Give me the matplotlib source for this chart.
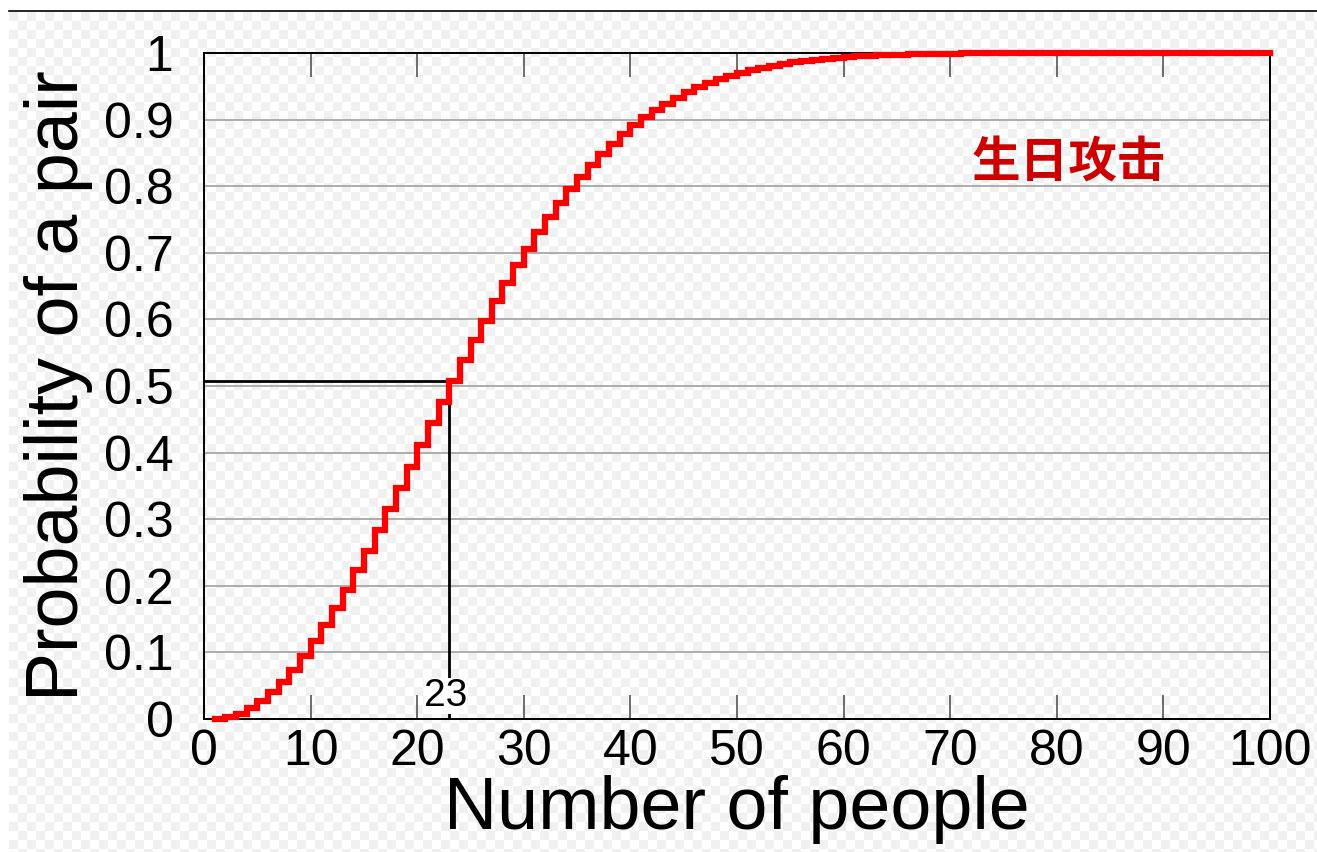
import numpy as np
import matplotlib

matplotlib.use("Agg")
import matplotlib.pyplot as plt
from matplotlib.lines import Line2D

# Number of people in the room
people = list(range(1, 101))

# Probability that at least two share a birthday
prob_pair = [
    0.0000, 0.0027, 0.0082, 0.0164, 0.0271, 0.0405, 0.0562, 0.0743, 0.0946, 0.1169,
    0.1411, 0.1670, 0.1944, 0.2231, 0.2529, 0.2836, 0.3150, 0.3469, 0.3791, 0.4114,
    0.4437, 0.4757, 0.5073, 0.5383, 0.5687, 0.5982, 0.6269, 0.6545, 0.6810, 0.7063,
    0.7305, 0.7533, 0.7750, 0.7953, 0.8144, 0.8322, 0.8487, 0.8641, 0.8782, 0.8912,
    0.9032, 0.9140, 0.9239, 0.9329, 0.9410, 0.9483, 0.9548, 0.9606, 0.9658, 0.9704,
    0.9744, 0.9780, 0.9811, 0.9839, 0.9863, 0.9883, 0.9901, 0.9917, 0.9930, 0.9941,
    0.9951, 0.9959, 0.9966, 0.9972, 0.9977, 0.9981, 0.9984, 0.9987, 0.9990, 0.9992,
    0.9993, 0.9995, 0.9996, 0.9997, 0.9997, 0.9998, 0.9998, 0.9999, 0.9999, 0.9999,
    0.9999, 0.9999, 1.0000, 1.0000, 1.0000, 1.0000, 1.0000, 1.0000, 1.0000, 1.0000,
    1.0000, 1.0000, 1.0000, 1.0000, 1.0000, 1.0000, 1.0000, 1.0000, 1.0000, 1.0000,
]

x_ticks = list(range(0, 101, 10))
y_ticks = [0, 0.1, 0.2, 0.3, 0.4, 0.5, 0.6, 0.7, 0.8, 0.9, 1]
y_tick_labels = ["0", "0.1", "0.2", "0.3", "0.4", "0.5", "0.6", "0.7", "0.8", "0.9", "1"]

half_n = 23  # first group size with p > 0.5
half_p = prob_pair[people.index(half_n)]

plt.rcParams["font.family"] = ["Liberation Sans", "DejaVu Sans"]

W, H, DPI = 1317, 852, 100
fig = plt.figure(figsize=(W / DPI, H / DPI), dpi=DPI)
fig.patch.set_facecolor("white")

# faint transparency checkerboard behind everything
cell = 9
yy, xx = np.mgrid[0:H - 12, 0:W - 9]
board = ((xx // cell + yy // cell) % 2).astype(float)
img = np.where(board[..., None] > 0, 1.0, 0.945) * np.ones(3)
fig.figimage(img, xo=9, yo=0, origin="upper", zorder=-5)
fig.add_artist(Line2D([9 / W, 1], [1 - 11 / H, 1 - 11 / H], color="black", lw=1.2,
                      transform=fig.transFigure))

ax = fig.add_axes([204 / W, 1 - 719 / H, (1270 - 204) / W, (719 - 53) / H])
ax.patch.set_alpha(0)

ax.step(people, prob_pair, where="post", color="#ff0000", lw=4.5, zorder=3,
        solid_joinstyle="miter", clip_on=False)

ax.plot([0, half_n], [half_p, half_p], color="black", lw=2, zorder=2)
ax.plot([half_n, half_n], [0, half_p], color="black", lw=2, zorder=2)
ax.text(half_n - 0.35, 0.035, str(half_n), fontsize=28, ha="center", va="center",
        zorder=4, bbox=dict(facecolor="white", edgecolor="none", pad=0))

ax.text(81.1, 0.835, "生日攻击", fontsize=35, color="#cc0000", fontweight="bold",
        family=["Noto Sans CJK SC", "DejaVu Sans"], ha="center", va="center")

ax.set_xlim(0, 100)
ax.set_ylim(0, 1)
ax.set_xticks(x_ticks)
ax.set_yticks(y_ticks)
ax.set_yticklabels(y_tick_labels)
ax.tick_params(axis="x", direction="in", length=17, width=1.2, color="#555555",
               top=True, labelsize=36, pad=7)
ax.tick_params(axis="y", direction="in", length=0, labelsize=36, pad=22)
ax.grid(axis="y", color="#a0a0a0", lw=1.2)

for s in ax.spines.values():
    s.set_color("black")
    s.set_linewidth(1.4)

ax.set_xlabel("Number of people", fontsize=53, labelpad=0)
ax.set_ylabel("Probability of a pair", fontsize=53, labelpad=8)

fig.savefig("out.png", dpi=DPI)
